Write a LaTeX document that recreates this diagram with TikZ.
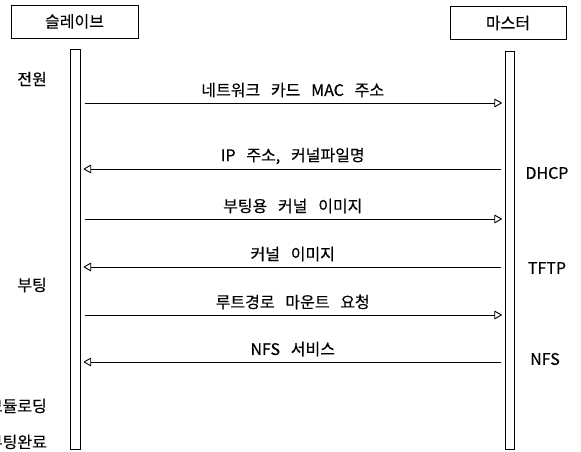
\documentclass[tikz,border=0pt]{standalone}
\usepackage{fontspec}
\setmainfont[WordSpace=3, FakeBold=0.4]{Noto Sans CJK KR}
\usetikzlibrary{arrows.meta}
\begin{document}
\begin{tikzpicture}[x=1pt,y=-1pt,
  font=\fontsize{16}{18}\selectfont,
  actor/.style={draw, line width=0.8pt, minimum height=33pt, inner sep=0pt},
  lifebar/.style={draw, line width=0.8pt, minimum width=9.5pt, inner sep=0pt, anchor=north},
  msg/.style={line width=0.9pt, -{Triangle[open,length=8pt,width=9pt,round]}, shorten <=4pt, shorten >=3pt},
  msglbl/.style={midway, yshift=13pt, inner sep=0pt},
  side/.style={inner sep=0pt}]
\useasboundingbox (0,0) rectangle (581,452);
\clip (0,0) rectangle (581,452);
% actors
\node[actor, minimum width=127pt] (slave) at (74.5,21.5) {슬레이브};
\node[actor, minimum width=116pt] (master) at (508,23) {마스터};
% lifelines
\node[lifebar, minimum height=400pt] (sbar) at (75.5,49) {};
\node[lifebar, minimum height=398pt] (mbar) at (510,51) {};
% message heights
\coordinate (y1) at (0,103);
\coordinate (y2) at (0,169);
\coordinate (y3) at (0,219);
\coordinate (y4) at (0,267);
\coordinate (y5) at (0,315);
\coordinate (y6) at (0,362);
% messages
\draw[msg] (sbar.east |- y1) -- (mbar.west |- y1) node[msglbl] (l1) {네트워크 카드 MAC 주소};
\draw[msg] (mbar.west |- y2) -- (sbar.east |- y2) node[msglbl] (l2) {IP 주소, 커널파일명};
\draw[msg] (sbar.east |- y3) -- (mbar.west |- y3) node[msglbl] (l3) {부팅용 커널 이미지};
\draw[msg] (mbar.west |- y4) -- (sbar.east |- y4) node[msglbl] (l4) {커널 이미지};
\draw[msg] (sbar.east |- y5) -- (mbar.west |- y5) node[msglbl] (l5) {루트경로 마운트 요청};
\draw[msg] (mbar.west |- y6) -- (sbar.east |- y6) node[msglbl] (l6) {NFS 서비스};
% right labels
\node[side] (dhcp) at (547,173) {DHCP};
\node[side] (tftp) at (547,268) {TFTP};
\node[side] (nfs) at (545,359) {NFS};
% left labels
\node[side, anchor=east] (power) at (47,79) {전원};
\node[side, anchor=east] (boot) at (47,285) {부팅};
\node[side, anchor=east] (module) at (47,406) {모듈로딩};
\node[side, anchor=east] (done) at (47,442) {부팅완료};
\end{tikzpicture}
\end{document}
